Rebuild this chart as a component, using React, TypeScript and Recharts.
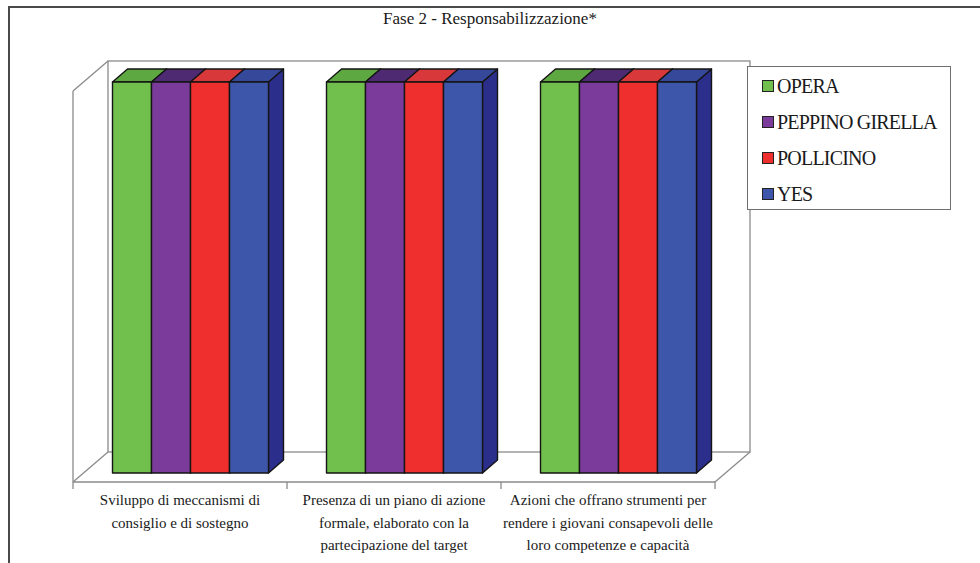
import { BarChart, Bar, XAxis, YAxis } from "recharts";

const categoryLines = [
  ["Sviluppo di meccanismi di", "consiglio e di sostegno"],
  ["Presenza di un piano di azione", "formale, elaborato con la", "partecipazione del target"],
  ["Azioni che offrano strumenti per", "rendere i giovani consapevoli delle", "loro competenze e capacità"],
];
const opera = [100, 100, 100];
const peppinoGirella = [100, 100, 100];
const pollicino = [100, 100, 100];
const yes = [100, 100, 100];

const series = [
  { key: "opera", name: "OPERA", values: opera, front: "#71bf4d", top: "#5ea842", side: "#4e8f36" },
  { key: "peppino", name: "PEPPINO GIRELLA", values: peppinoGirella, front: "#7a3b9a", top: "#4d2a72", side: "#44245f" },
  { key: "pollicino", name: "POLLICINO", values: pollicino, front: "#ef2e2e", top: "#d9383a", side: "#b82226" },
  { key: "yes", name: "YES", values: yes, front: "#3e56a9", top: "#36489a", side: "#2b2e8b" },
];

const data = categoryLines.map((lines, i) => {
  const row: any = { name: lines.join(" ") };
  series.forEach((s) => (row[s.key] = s.values[i]));
  return row;
});

const W = 980;
const H = 563;
// front plane of the 3D box
const PX0 = 73;
const PX1 = 715;
const PY0 = 91;
const PY1 = 482;
const AXIS_H = 70;
// wall depth
const WDX = 35;
const WDY = -30;
// where the bars sit inside the box, and their own depth
const FDX = 10.5;
const FDY = -9;
const BDX = 15;
const BDY = -13;

const FONT = "Liberation Serif, DejaVu Serif, serif";
const WALL = "#8a8a8a";

const makePrism = (s: any) => (props: any) => {
  const { x, y, width, height } = props;
  if (width == null || height == null) return null;
  const fx = x + FDX;
  const fy = y + FDY;
  const w = width;
  const h = height;
  return (
    <g stroke="#151515" strokeWidth={1.4} strokeLinejoin="round">
      <polygon
        points={`${fx + w},${fy} ${fx + w + BDX},${fy + BDY} ${fx + w + BDX},${fy + h + BDY} ${fx + w},${fy + h}`}
        fill={s.side}
      />
      <polygon
        points={`${fx},${fy} ${fx + BDX},${fy + BDY} ${fx + w + BDX},${fy + BDY} ${fx + w},${fy}`}
        fill={s.top}
      />
      <rect x={fx} y={fy} width={w} height={h} fill={s.front} />
    </g>
  );
};

const CategoryTick = (props: any) => {
  const { x, y, index } = props;
  const lines = categoryLines[index] || [];
  return (
    <text x={x} y={y} textAnchor="middle" style={{ fontFamily: FONT }} fontSize={15} fill="#1a1a1a">
      {lines.map((l, i) => (
        <tspan key={i} x={x} dy={i === 0 ? 23 : 22.5}>
          {l}
        </tspan>
      ))}
    </text>
  );
};

function Frame() {
  const band = (PX1 - PX0) / categoryLines.length;
  const ticks = [0, 1, 2, 3].map((i) => PX0 + i * band);
  return (
    <svg width={W} height={H} style={{ position: "absolute", left: 0, top: 0 }}>
      <text x={490} y={24} textAnchor="middle" style={{ fontFamily: FONT }} fontSize={17} fill="#1a1a1a">
        Fase 2 - Responsabilizzazione*
      </text>
      <g stroke={WALL} strokeWidth={1.3} fill="none">
        {/* back wall */}
        <rect x={PX0 + WDX} y={PY0 + WDY} width={PX1 - PX0} height={PY1 - PY0} />
        {/* left wall */}
        <line x1={PX0} y1={PY0} x2={PX0} y2={PY1} />
        <line x1={PX0} y1={PY0} x2={PX0 + WDX} y2={PY0 + WDY} />
        {/* floor */}
        <line x1={PX0} y1={PY1} x2={PX0 + WDX} y2={PY1 + WDY} />
        <line x1={PX1} y1={PY1} x2={PX1 + WDX} y2={PY1 + WDY} />
        {ticks.map((t, i) => (
          <line key={i} x1={t} y1={PY1} x2={t} y2={PY1 + 7} />
        ))}
      </g>
    </svg>
  );
}

function LegendBox() {
  return (
    <div
      style={{
        position: "absolute",
        left: 747,
        top: 66,
        width: 202,
        height: 142,
        border: "1.5px solid #6f6f6f",
        background: "#fff",
        fontFamily: FONT,
        fontSize: 20,
        color: "#1a1a1a",
      }}
    >
      {series.map((s, i) => (
        <div
          key={s.key}
          style={{ position: "absolute", left: 14, top: 7 + i * 36, height: 24, display: "flex", alignItems: "center" }}
        >
          <span
            style={{
              display: "inline-block",
              width: 10,
              height: 10,
              background: s.front,
              border: "1.5px solid #222",
              marginRight: 3,
            }}
          />
          <span style={{ letterSpacing: -0.8, whiteSpace: "nowrap" }}>{s.name}</span>
        </div>
      ))}
    </div>
  );
}

export default function App() {
  return (
    <div style={{ position: "absolute", left: 0, top: 0, width: W, height: H, overflow: "hidden", background: "#fff" }}>
      <div
        style={{
          position: "absolute",
          left: 8,
          top: 6,
          width: 1100,
          height: 700,
          borderLeft: "2.5px solid #4a4a4a",
          borderTop: "2.5px solid #4a4a4a",
        }}
      />
      <Frame />
      <div style={{ position: "absolute", left: 0, top: 0 }}>
        <BarChart
          width={W}
          height={H}
          data={data}
          margin={{ top: PY0, left: PX0, right: W - PX1, bottom: H - PY1 - AXIS_H }}
          barCategoryGap={29}
          barGap={0}
        >
          <XAxis
            dataKey="name"
            height={AXIS_H}
            axisLine={{ stroke: WALL, strokeWidth: 1.3 }}
            tickLine={false}
            tickSize={0}
            tickMargin={0}
            interval={0}
            tick={<CategoryTick />}
          />
          <YAxis hide domain={[0, 100]} />
          {series.map((s) => (
            <Bar key={s.key} dataKey={s.key} name={s.name} isAnimationActive={false} shape={makePrism(s)} />
          ))}
        </BarChart>
      </div>
      <LegendBox />
    </div>
  );
}
